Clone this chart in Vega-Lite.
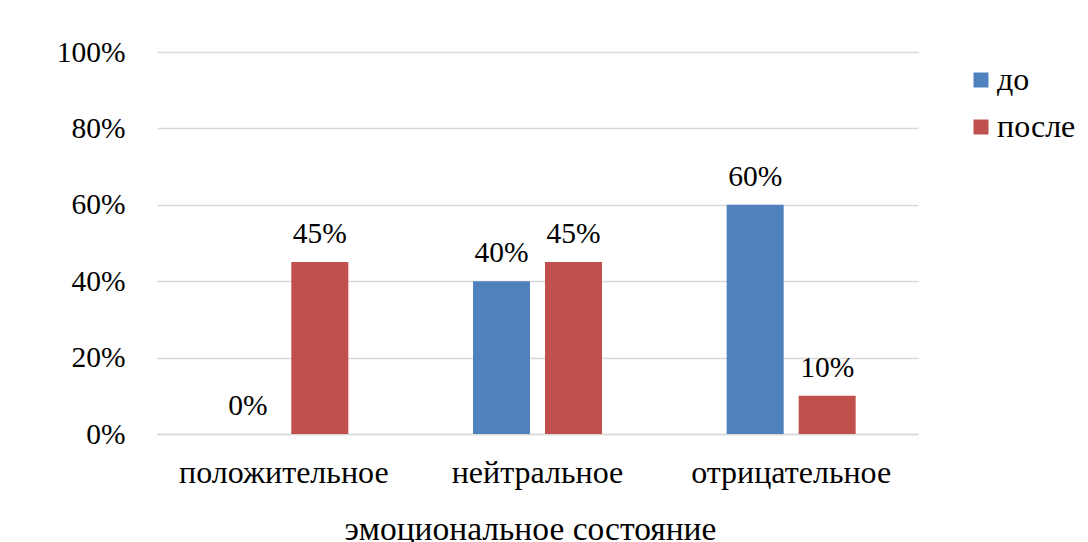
{
  "$schema": "https://vega.github.io/schema/vega-lite/v6.json",
  "width": 761,
  "height": 382,
  "autosize": {"type": "none"},
  "padding": {"left": 157, "top": 52, "right": 170, "bottom": 108},
  "background": "#ffffff",
  "config": {
    "font": "Liberation Serif",
    "view": {"stroke": null},
    "text": {"font": "Liberation Serif"},
    "axis": {"labelFont": "Liberation Serif", "titleFont": "Liberation Serif", "labelColor": "#000000", "titleColor": "#000000"},
    "legend": {"labelFont": "Liberation Serif"}
  },
  "data": {
    "values": [
      {"state": "положительное", "period": "до", "value": 0.0},
      {"state": "положительное", "period": "после", "value": 0.45},
      {"state": "нейтральное", "period": "до", "value": 0.40},
      {"state": "нейтральное", "period": "после", "value": 0.45},
      {"state": "отрицательное", "period": "до", "value": 0.60},
      {"state": "отрицательное", "period": "после", "value": 0.10}
    ]
  },
  "encoding": {
    "x": {
      "field": "state",
      "type": "nominal",
      "sort": ["положительное", "нейтральное", "отрицательное"],
      "scale": {"paddingInner": 0, "paddingOuter": 0},
      "axis": {
        "title": "эмоциональное состояние",
        "labelAngle": 0,
        "labelFontSize": 32,
        "labelLimit": 0,
        "titleFontSize": 33.5,
        "titleFontWeight": "normal",
        "titleX": 373,
        "ticks": false,
        "labelPadding": 23,
        "titlePadding": 25,
        "domainColor": "#d9d9d9",
        "domainWidth": 1.5
      }
    },
    "xOffset": {
      "field": "period",
      "type": "nominal",
      "sort": ["до", "после"],
      "scale": {"paddingInner": 0.208, "paddingOuter": 0.866}
    },
    "y": {
      "field": "value",
      "type": "quantitative",
      "scale": {"domain": [0, 1]},
      "axis": {
        "title": null,
        "format": ".0%",
        "values": [0, 0.2, 0.4, 0.6, 0.8, 1.0],
        "labelFontSize": 29.5,
        "labelPadding": 32,
        "ticks": false,
        "domain": false,
        "gridColor": "#d9d9d9",
        "gridWidth": 1.5
      }
    }
  },
  "layer": [
    {
      "mark": {"type": "bar"},
      "encoding": {
        "color": {
          "field": "period",
          "type": "nominal",
          "sort": ["до", "после"],
          "scale": {"domain": ["до", "после"], "range": ["#4f81bd", "#c0504d"]},
          "legend": {
            "title": null,
            "orient": "none",
            "legendX": 808,
            "legendY": 12,
            "symbolType": "square",
            "symbolSize": 225,
            "symbolStrokeWidth": 0,
            "labelFontSize": 32,
            "labelColor": "#000000",
            "labelOffset": 0,
            "rowPadding": 15
          }
        }
      }
    },
    {
      "mark": {"type": "text", "baseline": "alphabetic", "dy": -19, "fontSize": 29.5, "color": "#000000"},
      "encoding": {
        "text": {"field": "value", "type": "quantitative", "format": ".0%"}
      }
    }
  ]
}
